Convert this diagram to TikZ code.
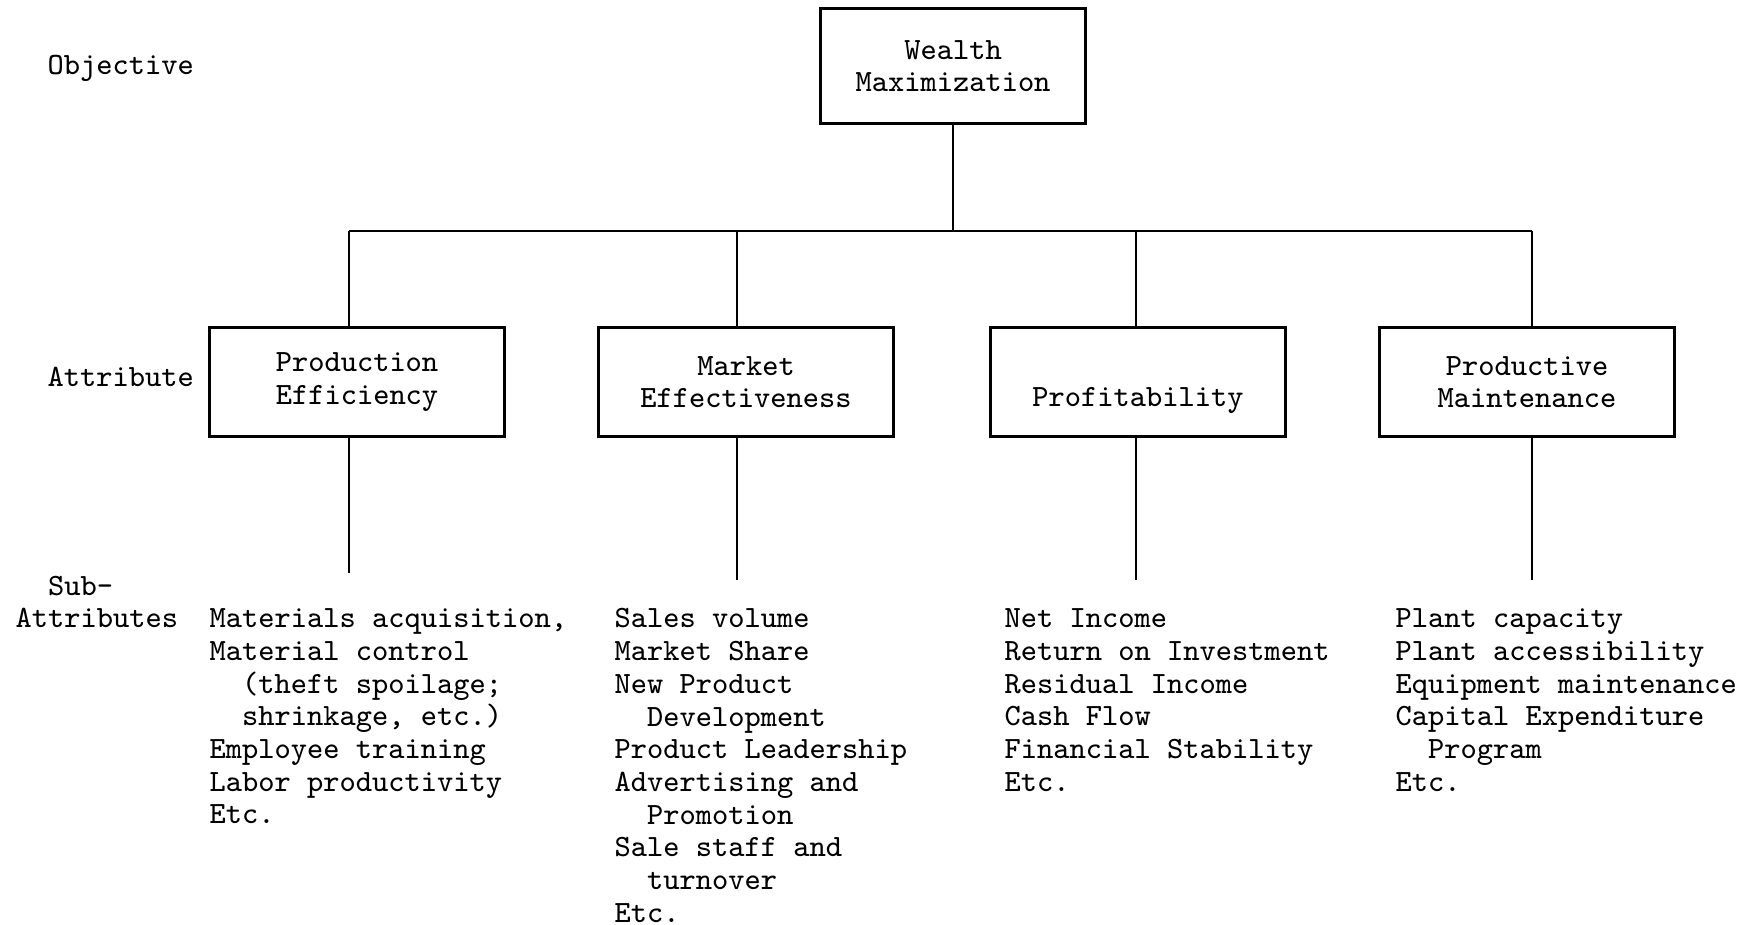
\documentclass[tikz,border=0pt]{standalone}
\usepackage{fontspec}
\usepackage{tikz}
\usetikzlibrary{calc}
\newfontfamily\typer{Latin Modern Mono}
\tikzset{
	typed/.style={font=\typer\fontsize{8.8}{9.3}\selectfont},
	attrbox/.style={typed, draw, line width=0.3mm, align=center, inner sep=0pt, minimum width=2.94cm, minimum height=1.08cm},
	sublist/.style={typed, align=left, anchor=north west, inner sep=0pt},
	rowlabel/.style={typed, align=left, anchor=west, inner sep=0pt},
	link/.style={line width=0.2mm}
}
\def\ind{\phantom{xx}}

\begin{document}
\begin{tikzpicture}[x=0.01cm, y=-0.01cm]
		%%%%% START %%%%%
		\useasboundingbox (0, 0) rectangle (1752, 925);
		
		\node[rowlabel] (objective) at (47, 68) {Objective};
		\node[rowlabel] (attribute) at (47, 377) {Attribute};
		\node[rowlabel] (subattr) at (15, 602) {\ind Sub-\\Attributes};
		
		\node[attrbox, minimum width=2.64cm, minimum height=1.14cm] (wealth) at (953, 66) {Wealth\\Maximization};
		
		\node[attrbox] (pe) at (357, 382) {Production\\Efficiency};
		\node[attrbox] (me) at (746, 382) {Market\\Effectiveness};
		\node[attrbox] (pr) at (1138, 382) {\strut\\Profitability};
		\node[attrbox] (pm) at (1527, 382) {Productive\\Maintenance};
		
		% drop lines sit a little off the box centres
		\coordinate (bar) at (0, 231);
		\draw[link] (wealth.south) -- (wealth.south |- bar);
		\draw[link] ($(pe.north |- bar)+(-8, 0)$) -- ($(pm.north |- bar)+(5, 0)$);
		\foreach \a/\dx/\yend in {pe/-8/573, me/-9/580, pr/-2/580, pm/5/580} {
			\draw[link] ($(\a.north)+(\dx, 0)$) -- ($(\a.north |- bar)+(\dx, 0)$);
			\coordinate (\a-end) at ($(\a.south |- 0, \yend)+(\dx, 0)$);
			\draw[link] ($(\a.south)+(\dx, 0)$) -- (\a-end);
		}
		
		\node[sublist] (pe-list) at (209, 608) {Materials acquisition,\\Material control\\\ind(theft spoilage;\\\ind shrinkage, etc.)\\Employee training\\Labor productivity\\Etc.};
		\node[sublist] (me-list) at (614, 608) {Sales volume\\Market Share\\New Product\\\ind Development\\Product Leadership\\Advertising and\\\ind Promotion\\Sale staff and\\\ind turnover\\Etc.};
		\node[sublist] (pr-list) at (1004, 608) {Net Income\\Return on Investment\\Residual Income\\Cash Flow\\Financial Stability\\Etc.};
		\node[sublist] (pm-list) at (1395, 608) {Plant capacity\\Plant accessibility\\Equipment maintenance\\Capital Expenditure\\\ind Program\\Etc.};
		%%%%% END %%%%%
\end{tikzpicture}
\end{document}
